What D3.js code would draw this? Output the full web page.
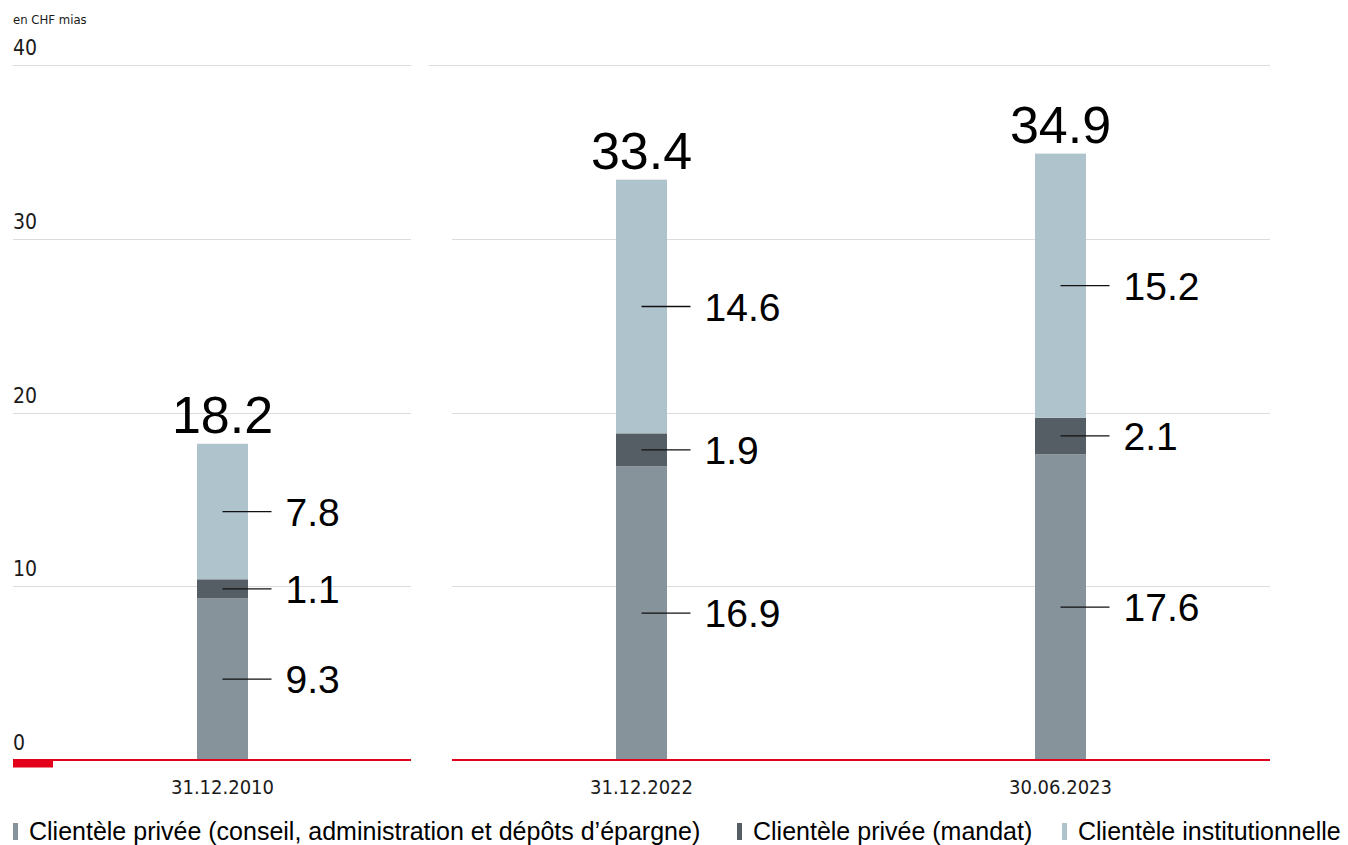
<!DOCTYPE html>
<html>
<head>
<meta charset="utf-8">
<script src="https://cdn.jsdelivr.net/npm/d3@7"></script>
<style>
  html, body { margin: 0; padding: 0; background: #ffffff; }
  svg { display: block; }
</style>
</head>
<body>
<svg id="chart" width="1348" height="845"></svg>
<script>
// ---- data ----
const categories = ["31.12.2010", "31.12.2022", "30.06.2023"];
const seriesNames = [
  "Clientèle privée (conseil, administration et dépôts d’épargne)",
  "Clientèle privée (mandat)",
  "Clientèle institutionnelle"
];
const privateAdvisory = [9.3, 16.9, 17.6];
const privateMandate = [1.1, 1.9, 2.1];
const institutional = [7.8, 14.6, 15.2];
const totals = [18.2, 33.4, 34.9];
const yTicks = [0, 10, 20, 30, 40];
const unitLabel = "en CHF mias";

// ---- styles / layout ----
const colors = ["#86939b", "#555e64", "#afc3cd"];
const red = "#e2001a";
const grid = "#dcdcdc";
const narrow = "'DejaVu Sans Condensed', 'Liberation Sans Narrow', sans-serif";
const arial = "'Liberation Sans', Arial, sans-serif";

const svg = d3.select("#chart");
const y = d3.scaleLinear().domain([0, 40]).range([760, 65]);
const x = d3.scalePoint().domain(categories).range([222.5, 1060.5]);
const barW = 51;

// panels: first category alone, then the others
const panels = [
  { x0: 13, x1: 411 },
  { x0: 452, x1: 1270 }
];

// gridlines
const g = svg.append("g");
panels.forEach((p, i) => {
  g.selectAll(null)
    .data(yTicks.filter(t => t > 0))
    .enter().append("line")
    .attr("x1", t => (i === 1 && t === 40) ? 429 : p.x0)
    .attr("x2", p.x1)
    .attr("y1", t => Math.round(y(t)) + 0.5)
    .attr("y2", t => Math.round(y(t)) + 0.5)
    .attr("stroke", grid)
    .attr("stroke-width", 1.2);
});

// y tick labels
svg.append("g").selectAll("text")
  .data(yTicks)
  .enter().append("text")
  .attr("x", 13)
  .attr("y", t => y(t) - 10)
  .attr("font-family", narrow)
  .attr("font-size", 21)
  .attr("fill", "#1a1a1a")
  .text(t => t);

svg.append("text")
  .attr("x", 13)
  .attr("y", 24)
  .attr("font-family", narrow)
  .attr("font-size", 13)
  .attr("fill", "#1a1a1a")
  .text(unitLabel);

// stacked bars
const rows = categories.map((c, i) => ({
  cat: c,
  vals: [privateAdvisory[i], privateMandate[i], institutional[i]],
  total: totals[i]
}));
const stack = d3.stack().keys([0, 1, 2]).value((d, k) => d.vals[k]);
const layers = stack(rows);

const barsG = svg.append("g");
layers.forEach((layer, k) => {
  barsG.selectAll(null)
    .data(layer)
    .enter().append("rect")
    .attr("x", d => x(d.data.cat) - barW / 2)
    .attr("width", barW)
    .attr("y", d => y(d[1]))
    .attr("height", d => y(d[0]) - y(d[1]))
    .attr("fill", colors[k]);
});

// baseline
panels.forEach(p => {
  svg.append("line")
    .attr("x1", p.x0).attr("x2", p.x1)
    .attr("y1", y(0)).attr("y2", y(0))
    .attr("stroke", red).attr("stroke-width", 1.8);
});
svg.append("rect")
  .attr("x", 13).attr("y", y(0) - 0.5)
  .attr("width", 40).attr("height", 8)
  .attr("fill", red);

// segment labels
const labG = svg.append("g");
layers.forEach(layer => {
  layer.forEach(d => {
    const cx = x(d.data.cat);
    const my = y((d[0] + d[1]) / 2);
    const v = d[1] - d[0];
    labG.append("line")
      .attr("x1", cx).attr("x2", cx + 49)
      .attr("y1", my).attr("y2", my)
      .attr("stroke", "#111").attr("stroke-width", 1.3);
    labG.append("text")
      .attr("x", cx + 63)
      .attr("y", my)
      .attr("dy", "0.36em")
      .attr("font-family", arial)
      .attr("font-size", 39)
      .attr("fill", "#000")
      .text(d3.format(".1f")(v));
  });
});

// totals
svg.append("g").selectAll("text")
  .data(rows)
  .enter().append("text")
  .attr("x", d => x(d.cat))
  .attr("y", d => y(d.total) - 11)
  .attr("text-anchor", "middle")
  .attr("font-family", arial)
  .attr("font-size", 52)
  .attr("fill", "#000")
  .text(d => d3.format(".1f")(d.total));

// category labels
svg.append("g").selectAll("text")
  .data(categories)
  .enter().append("text")
  .attr("x", d => x(d))
  .attr("y", 794)
  .attr("text-anchor", "middle")
  .attr("font-family", narrow)
  .attr("font-size", 20)
  .attr("fill", "#1a1a1a")
  .text(d => d);

// legend
const legendX = [13, 737, 1062];
const legG = svg.append("g");
seriesNames.forEach((name, k) => {
  legG.append("rect")
    .attr("x", legendX[k]).attr("y", 823)
    .attr("width", 5).attr("height", 17)
    .attr("fill", colors[k]);
  legG.append("text")
    .attr("x", legendX[k] + 16)
    .attr("y", 840)
    .attr("font-family", arial)
    .attr("font-size", 25)
    .attr("fill", "#000")
    .text(name);
});
</script>
</body>
</html>
